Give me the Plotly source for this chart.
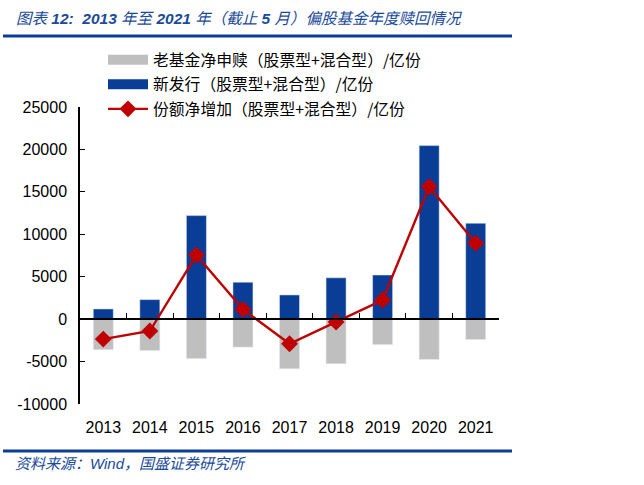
import plotly.graph_objects as go

# data (亿份)
years = ["2013", "2014", "2015", "2016", "2017", "2018", "2019", "2020", "2021"]
new_issue = [1200, 2300, 12200, 4350, 2850, 4870, 5200, 20450, 11300]
old_net_redeem = [-3600, -3700, -4650, -3300, -5850, -5250, -3000, -4750, -2400]
net_change = [-2350, -1400, 7550, 1150, -2900, -350, 2250, 15600, 8950]
y_ticks = [-10000, -5000, 0, 5000, 10000, 15000, 20000, 25000]
y_tick_text = [str(v) for v in y_ticks]

names = [
    "老基金净申赎（股票型+混合型）/亿份",
    "新发行（股票型+混合型）/亿份",
    "份额净增加（股票型+混合型）/亿份",
]

GREY = "#BFBFBF"
BLUE = "#0A3D96"
RED = "#C00000"
TITLE_BLUE = "#1A4A9A"
NUM_FONT = "Liberation Sans, Arial, sans-serif"
CJK_FONT = "Noto Sans CJK SC, sans-serif"

# page geometry in pixels
W, H = 644, 485
L, R, T, B = 80, 145, 107, 81


def px_x(px):
    return (px - L) / (W - L - R)


def px_y(py):
    return (H - B - py) / (H - T - B)


fig = go.Figure()

# legend-only entries so the bar swatches are wide like the original
fig.add_trace(go.Scatter(x=[None], y=[None], mode="lines", name=names[0],
                         line=dict(color=GREY, width=10), legendgroup="a", hoverinfo="skip"))
fig.add_trace(go.Scatter(x=[None], y=[None], mode="lines", name=names[1],
                         line=dict(color=BLUE, width=10), legendgroup="b", hoverinfo="skip"))

fig.add_trace(go.Bar(x=years, y=old_net_redeem, marker_color=GREY, width=0.43,
                     showlegend=False, name=names[0]))
fig.add_trace(go.Bar(x=years, y=new_issue, marker_color=BLUE, width=0.43,
                     showlegend=False, name=names[1]))
fig.add_trace(go.Scatter(x=years, y=net_change, mode="lines+markers", name=names[2],
                         legendgroup="c",
                         line=dict(color=RED, width=2.4),
                         marker=dict(symbol="diamond", size=13, color=RED)))

# invisible trace so the zero-line axis (x2) exists
fig.add_trace(go.Scatter(x=[None], y=[None], xaxis="x2", showlegend=False, hoverinfo="skip"))

zero_pos = (0 - y_ticks[0]) / (y_ticks[-1] - y_ticks[0])

fig.update_layout(
    width=W,
    height=H,
    margin=dict(l=L, r=R, t=T, b=B, autoexpand=False),
    paper_bgcolor="#fff",
    plot_bgcolor="#fff",
    barmode="relative",
    font=dict(family=NUM_FONT, size=16, color="#000"),
    title=dict(
        text="图表 <b>12:  2013</b> 年至 <b>2021</b> 年（截止 <b>5</b> 月）偏股基金年度赎回情况",
        font=dict(family=NUM_FONT + ", " + CJK_FONT, size=15.5, color=TITLE_BLUE, style="italic"),
        xref="container", x=16 / W, xanchor="left",
        yref="container", y=1 - 19 / H, yanchor="middle",
    ),
    legend=dict(
        x=px_x(103), y=px_y(43), xanchor="left", yanchor="top",
        font=dict(family=CJK_FONT, size=15.8, color="#000"),
        itemwidth=40, tracegroupgap=1, bgcolor="rgba(0,0,0,0)",
    ),
    xaxis=dict(
        type="category", range=[-0.5, len(years) - 0.5],
        showline=False, showgrid=False, zeroline=False,
        ticks="outside", ticklen=9, tickcolor="rgba(0,0,0,0)",
        tickfont=dict(family=NUM_FONT, size=16),
    ),
    xaxis2=dict(
        overlaying="x", anchor="free", position=zero_pos,
        range=[-0.5, len(years) - 0.5],
        tickvals=[i + 0.5 for i in range(len(years))],
        showticklabels=False, showgrid=False, zeroline=False,
        showline=True, linecolor="#000", linewidth=1.5,
        ticks="inside", ticklen=5, tickcolor="#000", tickwidth=1.2,
    ),
    yaxis=dict(
        range=[y_ticks[0], y_ticks[-1]],
        tickvals=y_ticks, ticktext=y_tick_text,
        showline=True, linecolor="#000", linewidth=1.5,
        ticks="inside", ticklen=5, tickcolor="#000", tickwidth=1.2,
        showgrid=False, zeroline=False,
        ticklabelstandoff=8,
        tickfont=dict(family=NUM_FONT, size=16),
    ),
    shapes=[
        dict(type="line", xref="paper", yref="paper",
             x0=px_x(3), x1=px_x(512), y0=px_y(36), y1=px_y(36),
             line=dict(color="#0A3D96", width=3)),
        dict(type="line", xref="paper", yref="paper",
             x0=px_x(3), x1=px_x(512), y0=px_y(451), y1=px_y(451),
             line=dict(color="#0A3D96", width=3)),
    ],
    annotations=[
        dict(text="资料来源：Wind，国盛证券研究所", xref="paper", yref="paper",
             x=px_x(13), y=px_y(463), xanchor="left", yanchor="middle", showarrow=False,
             font=dict(family=NUM_FONT + ", " + CJK_FONT, size=15, color=TITLE_BLUE, style="italic")),
    ],
)

# drop the browser's default page margin so the figure sits at the window corner
fig.write_html("out.html", config={"displayModeBar": False},
               post_script="document.body.style.margin='0';")
